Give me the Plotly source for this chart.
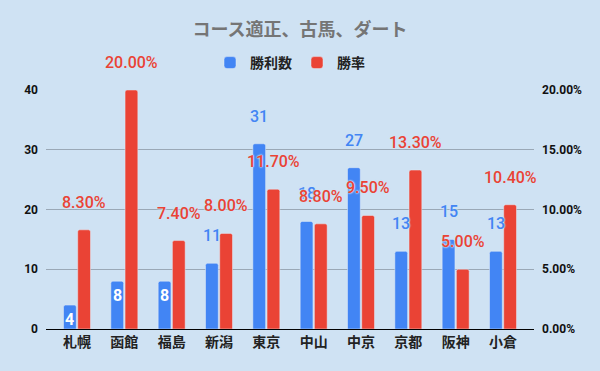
import plotly.graph_objects as go

categories = ["札幌", "函館", "福島", "新潟", "東京", "中山", "中京", "京都", "阪神", "小倉"]
wins = [4, 8, 8, 11, 31, 18, 27, 13, 15, 13]
win_rate = [0.083, 0.200, 0.074, 0.080, 0.117, 0.088, 0.095, 0.133, 0.050, 0.104]
inside_label = [True, True, True, False, False, False, False, False, False, False]

title_text = "コース適正、古馬、ダート"
series_names = ["勝利数", "勝率"]
left_ticks = [0, 10, 20, 30, 40]
right_ticks = [0, 0.05, 0.10, 0.15, 0.20]

BLUE = "#4285f4"
RED = "#ea4335"
BG = "#cfe2f3"
FONT = "Roboto, 'Noto Sans CJK JP', sans-serif"

W, H = 600, 371
ml, mr, mt, mb = 46, 66, 90, 42
plot_w = W - ml - mr
pad = 0.155
xr = [-0.5 - pad, len(categories) - 0.5 + pad]
cat_px = plot_w / (xr[1] - xr[0])
bargap = 0.4
group_px = cat_px * (1 - bargap)
shift = group_px / 4

fig = go.Figure()
fig.add_bar(x=categories, y=wins, name=series_names[0], marker_color=BLUE,
            yaxis="y", offsetgroup="a", hoverinfo="skip")
fig.add_bar(x=categories, y=win_rate, name=series_names[1], marker_color=RED,
            yaxis="y2", offsetgroup="b", hoverinfo="skip")

halo = f"0 0 2px {BG}, 0 0 2px {BG}, 0 0 2px {BG}"
annotations = []
for c, v, ins in zip(categories, wins, inside_label):
    if ins:
        annotations.append(dict(x=c, y=v, yref="y", xref="x", text=str(v), showarrow=False,
                                xshift=-shift, yshift=-3, yanchor="top",
                                font=dict(family=FONT, size=16, color="white", weight="bold")))
    else:
        annotations.append(dict(x=c, y=v, yref="y", xref="x", text=str(v), showarrow=False,
                                xshift=-shift, yshift=16, yanchor="bottom",
                                font=dict(family=FONT, size=16, color=BLUE, weight=500, shadow=halo)))
for c, v in zip(categories, win_rate):
    annotations.append(dict(x=c, y=v, yref="y2", xref="x", text=f"{v*100:.2f}%", showarrow=False,
                            xshift=shift, yshift=16, yanchor="bottom",
                            font=dict(family=FONT, size=16, color=RED, weight=500, shadow=halo)))

fig.update_layout(
    width=W, height=H,
    margin=dict(l=ml, r=mr, t=mt, b=mb, pad=0, autoexpand=False),
    paper_bgcolor=BG, plot_bgcolor=BG,
    barmode="group", bargap=bargap, bargroupgap=0.1, barcornerradius=2,
    title=dict(text=title_text, x=0.5, xanchor="center", y=1 - 30 / H, yanchor="middle",
               font=dict(family=FONT, size=18, color="#757575", weight="bold")),
    legend=dict(orientation="h", x=0.5, xanchor="center", yref="container", y=1 - 63 / H,
                yanchor="middle", font=dict(family=FONT, size=14, color="#222222", weight="bold"),
                bgcolor="rgba(0,0,0,0)", traceorder="normal"),
    xaxis=dict(range=xr, showgrid=False, showline=True, linecolor="#000000", linewidth=1.2,
               ticks="", automargin=False,
               tickfont=dict(family=FONT, size=14, color="#222222", weight="bold"),
               fixedrange=True),
    yaxis=dict(range=[0, 40], tickvals=left_ticks, showgrid=True, gridcolor="#9aa8b6",
               gridwidth=1, zeroline=False, ticks="", ticklabelstandoff=7, automargin=False,
               tickfont=dict(family=FONT, size=12, color="#111111", weight="bold")),
    yaxis2=dict(range=[0, 0.2], tickvals=right_ticks, tickformat=".2%", overlaying="y",
                side="right", showgrid=False, zeroline=False, ticks="", ticklabelstandoff=7,
                automargin=False,
                tickfont=dict(family=FONT, size=12, color="#111111", weight="bold")),
    annotations=annotations,
    showlegend=True,
    hovermode=False,
)

fig.write_html("out.html", config={"displayModeBar": False, "staticPlot": True},
               post_script="document.body.style.margin='0';document.body.style.background='" + BG + "';")
